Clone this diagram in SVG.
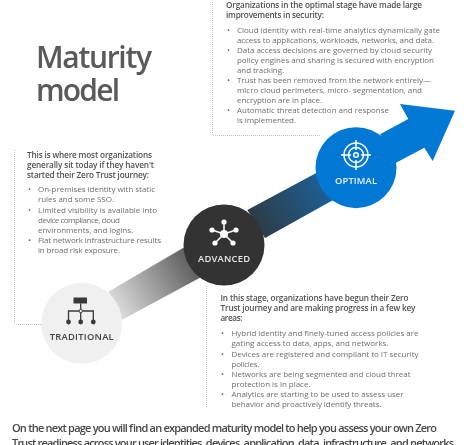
<svg xmlns="http://www.w3.org/2000/svg" width="475" height="445" viewBox="0 0 475 445">
<style>
text{font-family:"Open Sans","Noto Sans","Liberation Sans",sans-serif;filter:url(#soft)}
.h{font-size:8.2px;font-weight:600;fill:#505050}
.b{font-size:8px;fill:#6e6e6e}
.t{font-size:30px;font-weight:600;fill:#5a5a5a}
.f{font-size:11px;font-weight:600;fill:#474747}
.l{font-size:9.4px;font-weight:600;text-anchor:middle}
.d{fill:none;stroke:#c4c4c4;stroke-width:1;stroke-dasharray:1 1}
</style>
<defs>
<filter id="soft" x="-5%" y="-20%" width="110%" height="140%"><feGaussianBlur stdDeviation="0.3"/></filter>
<linearGradient id="g1" gradientUnits="userSpaceOnUse" x1="110" y1="310" x2="205" y2="255"><stop offset="0" stop-color="#e4e4e4"/><stop offset="1" stop-color="#4a4a4a"/></linearGradient>
<linearGradient id="g2" gradientUnits="userSpaceOnUse" x1="256" y1="224" x2="325" y2="187"><stop offset="0" stop-color="#2d3c48"/><stop offset="1" stop-color="#1d5f94"/></linearGradient>
</defs>
<rect width="475" height="445" fill="#fff"/>
<g id="connectors">
<path class="d" d="M212.500 2V135.500H320"/>
<path class="d" d="M14.500 150V324.500H41"/>
<path class="d" d="M206.500 286V407"/>
<polygon points="108.300,291.700 200,238 218,268 121.700,320" fill="url(#g1)"/>
<polygon points="247.300,210 320,171 335,199 265,238" fill="url(#g2)"/>
<polygon points="380,134.300 408.300,119 400,104 455,110.700 432.700,161 424.300,147.700 396,162.700" fill="#0078d4"/>
</g>
<text class="t" x="36" y="68" textLength="116">Maturity</text>
<text class="t" x="36" y="101" textLength="84">model</text>
<g id="panel-optimal">
<text class="h" x="226" y="8" textLength="196">Organizations in the optimal stage have made large</text>
<text class="h" x="226" y="18" textLength="98">improvements in security:</text>
<text class="b" x="227" y="33">•</text><text class="b" x="237" y="33" textLength="203">Cloud identity with real-time analytics dynamically gate</text>
<text class="b" x="237" y="43" textLength="197">access to applications, workloads, networks, and data.</text>
<text class="b" x="227" y="53">•</text><text class="b" x="237" y="53" textLength="195">Data access decisions are governed by cloud security</text>
<text class="b" x="237" y="63" textLength="197">policy engines and sharing is secured with encryption</text>
<text class="b" x="237" y="73" textLength="47">and tracking.</text>
<text class="b" x="227" y="83">•</text><text class="b" x="237" y="83" textLength="194">Trust has been removed from the network entirely—</text>
<text class="b" x="237" y="93" textLength="185">micro cloud perimeters, micro- segmentation, and</text>
<text class="b" x="237" y="103" textLength="85">encryption are in place.</text>
<text class="b" x="227" y="113">•</text><text class="b" x="237" y="113" textLength="152">Automatic threat detection and response</text>
<text class="b" x="237" y="123" textLength="59">is implemented.</text>
</g>
<g id="panel-traditional">
<text class="h" x="27" y="158" textLength="125">This is where most organizations</text>
<text class="h" x="27" y="168" textLength="127">generally sit today if they haven't</text>
<text class="h" x="27" y="178" textLength="122">started their Zero Trust journey:</text>
<text class="b" x="28" y="192">•</text><text class="b" x="38" y="192" textLength="117">On-premises identity with static</text>
<text class="b" x="38" y="202" textLength="76">rules and some SSO.</text>
<text class="b" x="28" y="212.500">•</text><text class="b" x="38" y="212.500" textLength="119">Limited visibility is available into</text>
<text class="b" x="38" y="222.500" textLength="82">device compliance, cloud</text>
<text class="b" x="38" y="232.500" textLength="95">environments, and logins.</text>
<text class="b" x="28" y="243">•</text><text class="b" x="38" y="243" textLength="123">Flat network infrastructure results</text>
<text class="b" x="38" y="253" textLength="82">in broad risk exposure.</text>
</g>
<g id="panel-advanced">
<text class="h" x="220.500" y="301" textLength="188">In this stage, organizations have begun their Zero</text>
<text class="h" x="220.500" y="311" textLength="195">Trust journey and are making progress in a few key</text>
<text class="h" x="220.500" y="321" textLength="22">areas:</text>
<text class="b" x="221" y="336">•</text><text class="b" x="231.500" y="336" textLength="187">Hybrid identity and finely-tuned access policies are</text>
<text class="b" x="231.500" y="346" textLength="157">gating access to data, apps, and networks.</text>
<text class="b" x="221" y="356.500">•</text><text class="b" x="231.500" y="356.500" textLength="187">Devices are registered and compliant to IT security</text>
<text class="b" x="231.500" y="366.500" textLength="28">policies.</text>
<text class="b" x="221" y="377">•</text><text class="b" x="231.500" y="377" textLength="179">Networks are being segmented and cloud threat</text>
<text class="b" x="231.500" y="387" textLength="79">protection is in place.</text>
<text class="b" x="221" y="397">•</text><text class="b" x="231.500" y="397" textLength="172">Analytics are starting to be used to assess user</text>
<text class="b" x="231.500" y="407" textLength="150">behavior and proactively identify threats.</text>
</g>
<g id="node-traditional">
<circle cx="81.700" cy="323.300" r="40.500" fill="#f0f0f0"/>
<rect x="73.500" y="297.500" width="13.500" height="6" fill="#3a3a3a"/>
<path d="M80.700 303.500V311M68.500 322V311H93.300V322M80.700 311V322" fill="none" stroke="#3a3a3a" stroke-width="1.300"/>
<circle cx="80.700" cy="311" r="1.700" fill="#fff" stroke="#3a3a3a"/>
<circle cx="68.500" cy="322" r="2.400" fill="#3a3a3a"/><circle cx="80.700" cy="322" r="2.400" fill="#3a3a3a"/><circle cx="93.300" cy="322" r="2.400" fill="#3a3a3a"/>
<text class="l" x="81.700" y="339.500" fill="#444" textLength="64">TRADITIONAL</text>
</g>
<g id="node-advanced">
<circle cx="224" cy="245" r="40.500" fill="#333"/>
<path d="M224 222V234M212 230L224 234L236 230M215 243L224 234L233 243" fill="none" stroke="#fff" stroke-width="1.500"/>
<circle cx="224" cy="222" r="2.600" fill="#fff"/><circle cx="212" cy="230" r="2.600" fill="#fff"/><circle cx="236" cy="230" r="2.600" fill="#fff"/><circle cx="215" cy="243" r="2.600" fill="#fff"/><circle cx="233" cy="243" r="2.600" fill="#fff"/>
<circle cx="224" cy="234" r="4" fill="#fff"/>
<text class="l" x="224" y="261.500" fill="#e6e6e6" textLength="52">ADVANCED</text>
</g>
<g id="node-optimal">
<circle cx="356" cy="167.700" r="40.500" fill="#0078d4"/>
<g fill="none" stroke="#fff" stroke-width="1.500"><circle cx="356" cy="155" r="12"/><circle cx="356" cy="155" r="7.500"/><circle cx="356" cy="155" r="2.300"/><path d="M356 140V150M356 160V170M341 155H351M361 155H371"/></g>
<text class="l" x="356" y="184" fill="#e6f2fb" textLength="42">OPTIMAL</text>
</g>
<text class="f" x="12" y="432" textLength="425">On the next page you will find an expanded maturity model to help you assess your own Zero</text>
<text class="f" x="12" y="447" textLength="442">Trust readiness across your user identities, devices, application, data, infrastructure, and networks</text>
</svg>
